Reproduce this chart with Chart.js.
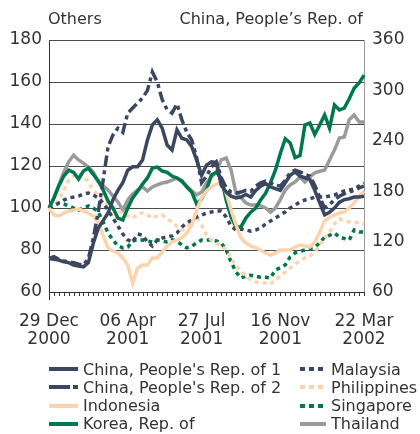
<!DOCTYPE html>
<html>
<head>
<meta charset="utf-8">
<script src="https://cdn.jsdelivr.net/npm/chart.js@4"></script>
<style>
body { margin: 0; background: #fff; font-family: "DejaVu Sans", Verdana, sans-serif; color: #333; }
#wrap { position: relative; width: 420px; height: 434px; }
.hdr { position: absolute; top: 9px; font-size: 16px; line-height: 20px; white-space: nowrap; }
.item { position: absolute; display: flex; align-items: center; height: 18px; font-size: 16px; white-space: nowrap; }
.item svg { margin-right: 5px; }
</style>
</head>
<body>
<div id="wrap">
    <canvas id="chart" width="420" height="434"></canvas>
    <div class="hdr" style="left:48px">Others</div>
    <div class="hdr" style="right:57px">China, People’s Rep. of</div>
    <div id="legend"></div>
</div>
<script>
// weekly observations, 29 Dec 2000 .. 22 Mar 2002
const weeks = Array.from({length: 65}, (_, i) => {
    const d = new Date(2000, 11, 29 + 7 * i);
    return d.getDate() + '/' + (d.getMonth() + 1) + '/' + d.getFullYear();
});

const tickIndex = [0, 16, 31, 47, 64];
const tickLabels = [['29 Dec', '2000'], ['06 Apr', '2001'], ['27 Jul', '2001'], ['16 Nov', '2001'], ['22 Mar', '2002']];

// right axis
const china1 = [100, 99, 98, 96, 95, 92, 91, 90, 95, 118, 136, 145, 154, 170, 181, 190, 205, 209, 209, 217, 241, 259, 265, 255, 235, 229, 253, 243, 241, 233, 217, 199, 211, 215, 214, 187, 179, 174, 172, 173, 176, 173, 181, 186, 189, 185, 183, 181, 190, 199, 203, 198, 196, 194, 181, 166, 152, 155, 160, 167, 170, 171, 173, 173, 174];
const china2 = [100, 102, 99, 97, 96, 95, 93, 92, 100, 124, 155, 193, 233, 247, 255, 250, 273, 279, 285, 291, 300, 322, 310, 289, 277, 273, 284, 265, 250, 241, 220, 190, 198, 209, 215, 196, 184, 179, 178, 179, 181, 180, 186, 190, 192, 190, 187, 186, 193, 202, 205, 203, 200, 198, 187, 173, 160, 164, 170, 174, 177, 179, 181, 184, 186];

// left axis
const indonesia = [100, 96.7, 96.2, 97.6, 98.6, 99, 99.5, 98.6, 97.6, 96.2, 93.3, 86.7, 81, 79.5, 78.6, 76.2, 72.9, 64.3, 71.4, 72.9, 72.9, 76.2, 76.2, 79, 81.9, 83.8, 84.8, 85.7, 88.1, 91.9, 99, 104.8, 108.1, 110, 111.4, 111.9, 107.1, 99, 91.9, 85.7, 83.3, 81.9, 81, 80, 78.6, 77.6, 78.6, 80, 80, 80, 81.4, 82.4, 81.9, 81.4, 83.8, 88.6, 93.8, 95.7, 96.7, 97.6, 98.1, 100, 102.4, 105.7, 108.1];
const korea = [100, 104.8, 110.5, 115.2, 118, 117, 113.8, 117.6, 119, 116, 113, 108.6, 103.3, 100, 95.2, 94.3, 100, 104.8, 108, 111.4, 114.3, 119, 119.5, 117.6, 117, 115.2, 114.3, 112.9, 110, 107.6, 101.9, 104.3, 108.6, 115.7, 117, 114.3, 103.8, 95.7, 91, 91, 95.2, 98, 100, 103.8, 107, 112, 118, 126, 133, 131, 124, 125, 139.5, 140.5, 135, 139.5, 144.3, 138, 149, 146.7, 147.6, 152, 157, 159.5, 163.3];
const malaysia = [100, 101, 102.4, 103.8, 104.8, 105.2, 105.7, 106.7, 107.1, 106.2, 104.8, 102.4, 99, 95.2, 91.4, 87.6, 84.8, 83.8, 87.6, 87.1, 83.8, 81.9, 84.8, 85.7, 86.2, 86.7, 88.1, 91, 92.9, 94.3, 95.7, 96.7, 97.6, 98.1, 98.6, 98.6, 95.7, 91.4, 89.5, 90, 89.5, 89, 89.5, 90.5, 92.4, 93.8, 95.2, 96.7, 98.1, 100, 101.4, 102.9, 103.8, 104.3, 105.2, 105.2, 105.2, 105.7, 106.2, 107.1, 108.1, 108.6, 109, 110.5, 111.9];
const philippines = [100, 101, 103.8, 108.6, 113.3, 115.2, 116.7, 115.2, 112.4, 108.6, 105.7, 103.8, 101.4, 100, 99, 97.1, 96.2, 95.2, 97.1, 97.6, 96.7, 95.2, 96.2, 96.7, 94.8, 93.3, 91.4, 89.5, 90.5, 93.3, 96.2, 91.9, 87.1, 84.8, 83.3, 81.9, 80, 76.2, 72.4, 70, 67.6, 65.7, 64.8, 64.3, 64.3, 63.8, 65.7, 67.6, 69.5, 71.4, 73.3, 74.8, 76.2, 77.1, 79, 82.4, 85.7, 88.6, 92.4, 94.8, 93.8, 93.3, 93.3, 92.9, 92.4];
const singapore = [100, 101.4, 102.4, 101.9, 101, 100, 99, 100, 101, 100, 98.1, 93.3, 88.1, 84.8, 81.9, 81, 81.4, 84.3, 84.8, 84.8, 84.3, 83.8, 84.8, 84.3, 83.8, 84.8, 84.3, 82.4, 81, 81.9, 83.3, 84.8, 84.8, 84.8, 84.3, 83.3, 80, 74.3, 69.5, 66.7, 67.6, 68, 67.5, 67, 67, 66.7, 70.5, 71.5, 72.9, 76.7, 78.6, 79.3, 80, 80.7, 81.4, 83.3, 86.2, 87, 88.1, 86.2, 85.5, 84.8, 89.5, 88.6, 88.6];
const thailand = [100, 104.8, 111, 117, 122, 125.2, 122.9, 121.4, 119.5, 117, 112.4, 110.5, 108.6, 105.7, 102.9, 99, 103.8, 106.7, 108.6, 110, 108.1, 110, 111, 111.9, 112.4, 113.3, 114.3, 112.4, 110.5, 108.1, 106.2, 107.6, 111.9, 114.8, 117, 122.9, 123.8, 118, 107, 105, 102.4, 101.4, 101.4, 101, 100, 98, 100, 104, 108.6, 111, 112.4, 114.8, 112.4, 114.8, 116.7, 117.5, 118, 122.9, 127.6, 133.3, 133.8, 142, 144.3, 141, 141];

const NAVY = '#3b4661', PEACH = '#fcd3ac', GREEN = '#00784b', GREY = '#9b9b9b';
const FONT = '"DejaVu Sans", Verdana, sans-serif';

function line(label, data, color, dash, axis, legendDash) {
    return {
        label: label,
        data: data,
        yAxisID: axis,
        borderColor: color,
        backgroundColor: color,
        borderWidth: 3.5,
        borderDash: dash,
        borderCapStyle: 'butt',
        borderJoinStyle: 'miter',
        pointRadius: 0,
        tension: 0,
        fill: false,
        legendDash: legendDash
    };
}

const datasets = [
    line("China, People's Rep. of 1", china1, NAVY, [], 'y1', ''),
    line("China, People's Rep. of 2", china2, NAVY, [11, 4, 4, 4], 'y1', '21 3 5 10'),
    line('Indonesia', indonesia, PEACH, [], 'y', ''),
    line('Korea, Rep. of', korea, GREEN, [], 'y', ''),
    line('Malaysia', malaysia, NAVY, [4, 4], 'y', '5 4'),
    line('Philippines', philippines, PEACH, [4, 4], 'y', '5 4'),
    line('Singapore', singapore, GREEN, [4, 4], 'y', '5 4'),
    line('Thailand', thailand, GREY, [], 'y', '')
];

/* ================= MINOR TICKS ================= */
const minorTicks = {
    id: 'minorTicks',
    afterDraw(chart) {
        const x = chart.scales.x, ctx = chart.ctx, bottom = chart.chartArea.bottom;
        ctx.save();
        ctx.strokeStyle = '#333';
        ctx.lineWidth = 1;
        ctx.beginPath();
        weeks.forEach((w, i) => {
            const px = Math.round(x.getPixelForValue(i)) + 0.5;
            ctx.moveTo(px, bottom);
            ctx.lineTo(px, bottom + 4);
        });
        ctx.stroke();
        ctx.restore();
    }
};

new Chart(document.getElementById('chart'), {
    type: 'line',
    data: { labels: weeks, datasets: datasets },
    plugins: [minorTicks],
    options: {
        responsive: false,
        animation: false,
        layout: { padding: { top: 40, left: 0, right: 0, bottom: 0 } },
        plugins: { legend: { display: false }, tooltip: { enabled: false } },
        scales: {
            x: {
                offset: false,
                grid: {
                    drawOnChartArea: false,
                    tickLength: 8,
                    tickColor: (c) => tickIndex.includes(c.index) ? '#333' : 'rgba(0,0,0,0)'
                },
                border: { color: '#333' },
                ticks: {
                    autoSkip: false,
                    maxRotation: 0,
                    padding: 13,
                    color: '#333',
                    font: { family: FONT, size: 17, lineHeight: 1.05 },
                    callback: (v, i) => {
                        const k = tickIndex.indexOf(i);
                        return k >= 0 ? tickLabels[k] : null;
                    }
                },
                afterFit: (s) => { s.height = 142; }
            },
            y: {
                position: 'left',
                min: 60,
                max: 180,
                ticks: { stepSize: 20, padding: 7, color: '#333', font: { family: FONT, size: 17 } },
                grid: { color: '#4a4a4a', drawTicks: false },
                border: { color: '#333' },
                afterFit: (s) => { s.width = 49; }
            },
            y1: {
                position: 'right',
                min: 60,
                max: 360,
                ticks: { stepSize: 60, padding: 8, color: '#333', font: { family: FONT, size: 17 } },
                grid: { drawOnChartArea: false, drawTicks: false },
                border: { color: '#999' },
                afterFit: (s) => { s.width = 56; }
            }
        }
    }
});

/* ================= LEGEND ================= */
const legend = document.getElementById('legend');
const cols = [49, 300];
const sampleW = [29, 26];
datasets.forEach((ds, i) => {
    const col = i < 4 ? 0 : 1, row = i % 4;
    const w = sampleW[col];
    const el = document.createElement('div');
    el.className = 'item';
    el.style.left = cols[col] + 'px';
    el.style.top = (360 + row * 18.3) + 'px';
    el.innerHTML = '<svg width="' + w + '" height="8"><line x1="0" y1="4" x2="' + w + '" y2="4" stroke="' + ds.borderColor +
        '" stroke-width="4" stroke-dasharray="' + ds.legendDash + '"/></svg>';
    el.appendChild(document.createTextNode(ds.label));
    legend.appendChild(el);
});
</script>
</body>
</html>
